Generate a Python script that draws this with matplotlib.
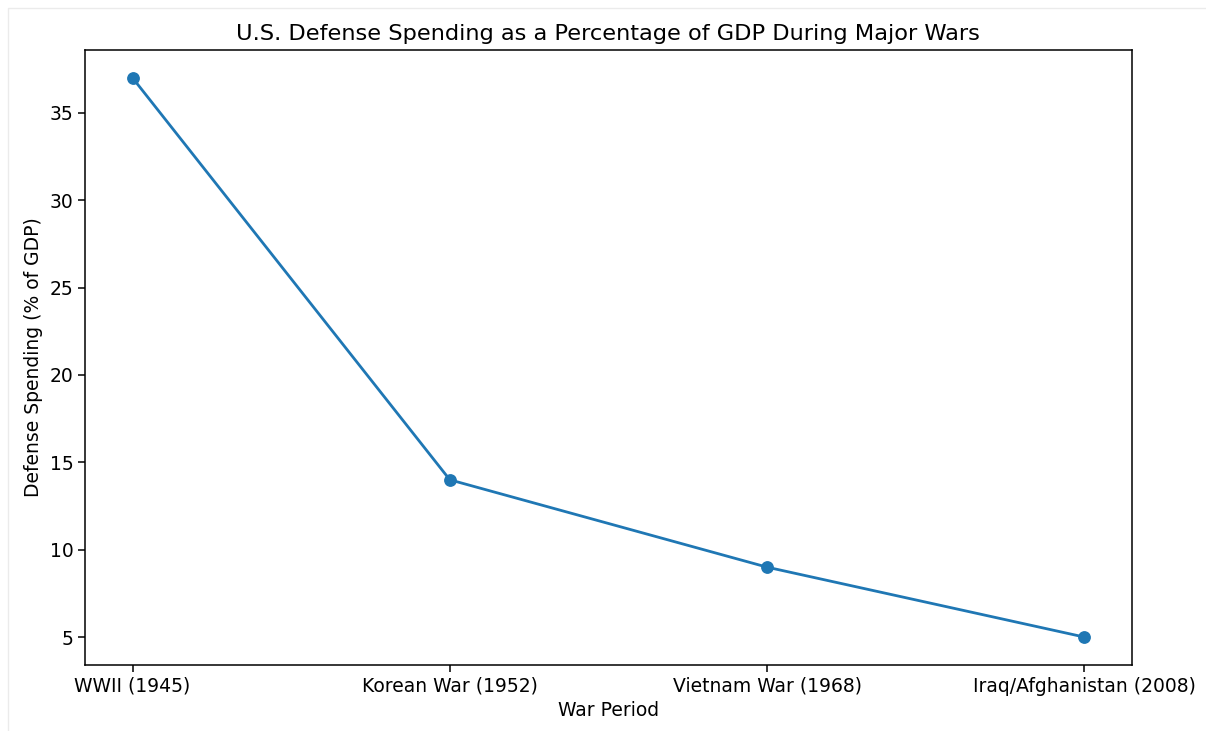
import matplotlib
matplotlib.use('Agg')
import matplotlib.pyplot as plt
from matplotlib.patches import Rectangle

wars = ['WWII (1945)', 'Korean War (1952)', 'Vietnam War (1968)', 'Iraq/Afghanistan (2008)']
spending = [37, 14, 9, 5]

fig = plt.figure(figsize=(12.06, 7.31), dpi=100)

# faint screenshot frame
fig.patches.append(Rectangle((8/1206, -0.01), 1.1, 1 - 8/731 + 0.01,
                             transform=fig.transFigure, fill=False,
                             edgecolor='#ebebeb', lw=1.0))

ax = fig.add_axes([0.0705, 0.0903, 0.868, 0.8413])

ax.plot(wars, spending, marker='o', color='#1f77b4', lw=2.0, markersize=8.2)

ax.set_title('U.S. Defense Spending as a Percentage of GDP During Major Wars',
             fontsize=16.2, pad=7)
ax.set_xlabel('War Period', fontsize=13.5, labelpad=4)
ax.set_ylabel('Defense Spending (% of GDP)', fontsize=13.5, labelpad=5)
ax.tick_params(labelsize=13.5, width=1.1, length=4.8)
for s in ax.spines.values():
    s.set_linewidth(1.1)

fig.savefig('out.png', dpi=100)
